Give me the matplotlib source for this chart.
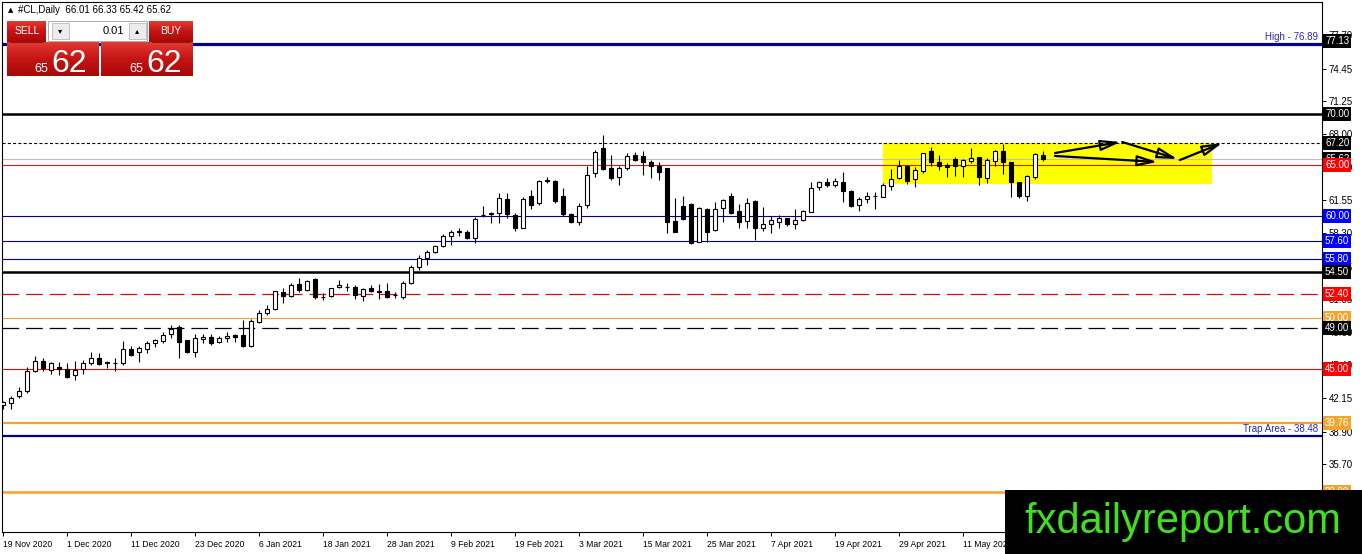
import matplotlib
matplotlib.use("Agg")
import matplotlib.pyplot as plt
import numpy as np
from matplotlib.patches import Rectangle
from matplotlib.colors import LinearSegmentedColormap
from matplotlib.transforms import blended_transform_factory

W, H = 1362, 554
plt.rcParams['font.family'] = ['Liberation Sans', 'DejaVu Sans']
plt.rcParams['lines.scale_dashes'] = False

# daily bars #CL, 19 Nov 2020 .. 25 May 2021
opens = [41.50, 41.66, 42.38, 42.87, 44.85, 45.84, 44.95, 45.25, 45.06, 44.40,
         45.00, 45.60, 46.10, 45.70, 45.60, 45.65, 46.95, 46.72, 46.95, 47.55,
         47.80, 48.42, 49.10, 47.86, 46.70, 48.00, 48.19, 47.70, 48.10, 48.35,
         48.35, 47.30, 49.66, 50.48, 50.87, 52.60, 52.17, 53.35, 52.76, 53.80,
         52.10, 52.17, 53.05, 53.09, 53.09, 52.17, 52.93, 52.70, 52.66, 52.30,
         52.04, 53.48, 55.05, 55.93, 56.45, 57.07, 58.08, 58.45, 58.47, 57.89,
         60.10, 60.25, 60.27, 61.65, 60.11, 58.87, 61.97, 61.25, 63.47, 63.47,
         61.97, 60.17, 59.45, 61.09, 64.19, 66.64, 64.74, 63.80, 64.68, 65.98,
         65.92, 65.27, 64.94, 64.68, 59.52, 60.99, 61.18, 57.50, 60.69, 58.61,
         60.82, 62.00, 60.50, 59.52, 61.48, 58.80, 59.26, 59.45, 59.78, 59.26,
         59.62, 60.43, 62.82, 63.37, 63.05, 63.37, 62.46, 61.09, 61.64, 61.97,
         61.90, 62.98, 63.70, 64.94, 63.60, 64.45, 66.38, 65.27, 65.00, 65.56,
         64.91, 65.43, 65.76, 63.76, 65.43, 66.38, 65.27, 63.31, 61.97, 63.86,
         66.01]
highs = [41.90, 42.38, 43.29, 45.19, 46.30, 46.07, 45.75, 45.75, 45.60, 45.85,
         45.90, 46.65, 46.55, 45.85, 46.10, 47.77, 47.30, 47.30, 47.77, 48.00,
         48.60, 49.33, 49.30, 47.90, 48.50, 48.45, 48.45, 48.25, 48.65, 48.45,
         49.80, 49.90, 50.80, 51.30, 52.70, 52.93, 53.40, 53.90, 53.75, 53.90,
         52.45, 53.00, 53.70, 53.40, 53.25, 52.93, 53.25, 53.35, 53.48, 52.60,
         53.67, 55.20, 56.19, 56.68, 57.17, 58.25, 58.64, 58.80, 58.64, 59.88,
         60.99, 60.43, 62.23, 62.23, 60.27, 61.84, 62.56, 63.54, 63.86, 63.54,
         62.72, 60.33, 61.25, 64.94, 66.47, 67.94, 65.98, 64.94, 66.15, 66.25,
         66.38, 65.49, 65.33, 64.74, 61.81, 61.97, 61.25, 60.92, 60.82, 61.35,
         61.67, 62.23, 61.15, 61.74, 61.58, 60.92, 60.04, 60.11, 59.85, 60.69,
         60.60, 63.37, 63.47, 63.76, 63.70, 64.29, 62.56, 61.90, 62.39, 62.39,
         63.21, 64.58, 65.49, 65.00, 64.78, 66.21, 66.80, 65.98, 65.23, 65.76,
         65.56, 66.64, 65.82, 65.66, 66.47, 67.06, 65.33, 63.37, 64.03, 66.15,
         66.33]
lows = [41.10, 41.10, 42.15, 42.70, 44.75, 44.80, 44.54, 44.45, 44.10, 43.90,
        44.50, 45.40, 45.40, 45.10, 44.85, 45.40, 46.30, 45.75, 46.55, 47.20,
        47.60, 48.05, 46.07, 46.55, 46.20, 47.60, 47.40, 47.60, 47.70, 47.70,
        47.15, 47.20, 49.50, 50.30, 50.80, 51.46, 52.10, 52.60, 52.70, 51.90,
        51.78, 52.04, 53.00, 52.66, 51.90, 51.72, 52.60, 51.90, 52.00, 52.00,
        51.90, 53.35, 54.72, 55.20, 56.35, 57.00, 57.17, 58.05, 57.76, 57.40,
        59.88, 59.29, 59.35, 59.78, 58.57, 58.80, 60.66, 61.09, 63.21, 61.32,
        60.01, 59.35, 59.13, 60.82, 63.80, 64.52, 63.54, 63.05, 64.52, 65.40,
        64.03, 63.76, 63.54, 58.31, 58.41, 59.62, 57.23, 57.43, 57.43, 58.54,
        59.39, 60.17, 58.87, 58.80, 57.66, 58.54, 58.31, 58.80, 59.06, 58.74,
        59.52, 60.43, 62.56, 62.82, 62.82, 61.41, 60.86, 60.53, 61.25, 60.66,
        61.84, 62.56, 63.60, 63.14, 62.88, 64.25, 64.91, 64.52, 63.86, 63.93,
        63.86, 65.17, 63.05, 63.27, 64.91, 64.12, 61.90, 61.74, 61.51, 63.60,
        65.42]
closes = [41.80, 42.15, 42.87, 44.80, 45.84, 45.09, 45.58, 45.00, 44.27, 44.95,
          45.60, 46.14, 45.55, 45.62, 45.66, 46.95, 46.40, 47.05, 47.55, 47.86,
          48.35, 48.94, 47.70, 46.70, 48.03, 48.19, 47.60, 48.03, 48.29, 48.12,
          47.28, 49.76, 50.48, 50.87, 52.66, 52.17, 53.25, 52.76, 53.67, 52.04,
          52.12, 52.93, 53.25, 53.05, 52.27, 52.85, 52.70, 52.60, 52.04, 52.28,
          53.48, 54.98, 55.93, 56.45, 57.07, 58.08, 58.41, 58.50, 57.89, 59.68,
          60.12, 60.30, 61.74, 60.20, 58.87, 61.65, 61.09, 63.44, 63.50, 61.51,
          60.17, 59.45, 61.02, 64.03, 66.31, 64.61, 63.76, 64.74, 65.88, 65.49,
          65.33, 64.91, 64.35, 59.45, 58.48, 59.68, 57.33, 60.82, 58.41, 60.69,
          61.54, 60.27, 59.39, 61.25, 58.80, 59.19, 59.58, 59.78, 59.19, 59.58,
          60.50, 62.72, 63.31, 63.05, 63.47, 62.49, 60.99, 61.67, 62.00, 62.00,
          63.05, 63.60, 64.91, 63.47, 64.52, 66.15, 65.27, 64.91, 64.84, 64.91,
          65.49, 65.66, 63.86, 65.49, 66.38, 65.27, 63.37, 62.00, 63.93, 66.08,
          65.62]

date_labels = ["19 Nov 2020", "1 Dec 2020", "11 Dec 2020", "23 Dec 2020",
               "6 Jan 2021", "18 Jan 2021", "28 Jan 2021", "9 Feb 2021",
               "19 Feb 2021", "3 Mar 2021", "15 Mar 2021", "25 Mar 2021",
               "7 Apr 2021", "19 Apr 2021", "29 Apr 2021", "11 May 2021",
               "21 May 2021"]
price_ticks = [32.45, 35.70, 38.90, 42.15, 45.40, 48.60, 51.85, 55.05,
               58.30, 61.55, 64.80, 68.00, 71.25, 74.45, 77.70]

# horizontal levels drawn on the chart
levels = [70.00, 67.20, 65.62, 65.00, 60.00, 57.60, 55.80, 54.50,
          52.40, 50.00, 49.00, 45.00, 39.76, 33.00]
high_level = 76.89
trap_level = 38.48
ask_label = 77.13

header = "#CL,Daily  66.01 66.33 65.42 65.62"
lot = "0.01"
price_small, price_big = "65", "62"

NAVY = "#00008c"
ORANGE = "#f2a52a"
RED = "#c81e1e"
LONG_DASH = (0, (12, 5))
SHORT_DASH = (0, (2.2, 1.6))
level_style = {
    70.00: ("black", 1.8, "-", "black"),
    67.20: ("black", 0.8, SHORT_DASH, "black"),
    65.62: ("#c0c0c0", 0.8, "-", "black"),
    65.00: (RED, 0.8, "-", "#ff0000"),
    60.00: (NAVY, 0.8, "-", "#0000ff"),
    57.60: (NAVY, 0.8, "-", "#0000ff"),
    55.80: (NAVY, 0.8, "-", "#0000ff"),
    54.50: ("black", 1.8, "-", "black"),
    52.40: ("#d01010", 0.9, LONG_DASH, "#ff0000"),
    50.00: (ORANGE, 0.8, "-", ORANGE),
    49.00: ("black", 0.9, LONG_DASH, "black"),
    45.00: ("#d01010", 0.8, "-", "#ff0000"),
    39.76: (ORANGE, 1.6, "-", ORANGE),
    33.00: (ORANGE, 1.8, "-", ORANGE),
}

fig = plt.figure(figsize=(W / 100, H / 100), dpi=100)
fig.patch.set_facecolor("white")

# main chart area: x 2..1322 px, y 2..532 px
ax = fig.add_axes([2 / W, 1 - 532 / H, 1320 / W, 530 / H])
ax.set_xlim(-0.125, 164.875)
ax.set_ylim(70 - 418 / 10.21, 70 + 112 / 10.21)

for p in levels:
    col, lw, ls, _ = level_style[p]
    ax.axhline(p, color=col, lw=lw, ls=ls, zorder=2)
ax.axhline(high_level, color=NAVY, lw=2.3, zorder=2)
ax.axhline(trap_level, color=NAVY, lw=1.6, zorder=2)

# yellow consolidation box and the projected arrows
ax.add_patch(Rectangle((110.0, 63.1), 41.1, 4.05, fc="#ffff00", ec="none", zorder=1))
arrow_legs = [((131.5, 66.18), (139.7, 67.26)),
              ((139.9, 67.26), (146.8, 65.59)),
              ((147.1, 65.49), (152.4, 67.16)),
              ((131.5, 65.89), (144.3, 65.30))]
for start, end in arrow_legs:
    ax.annotate("", xy=end, xytext=start,
                arrowprops=dict(arrowstyle="-|>,head_length=1.2,head_width=0.32",
                                ec="black", fc="none", lw=1.6,
                                shrinkA=0, shrinkB=0), zorder=6)

# candles
x = np.arange(len(opens))
o = np.array(opens)
c = np.array(closes)
up = c >= o
lo = np.minimum(o, c)
hgt = np.abs(c - o)
ax.vlines(x, lows, highs, color="black", lw=0.8, zorder=4)
ax.bar(x[up], hgt[up], bottom=lo[up], width=0.62, facecolor="white",
       edgecolor="black", lw=0.8, zorder=5)
ax.bar(x[~up], hgt[~up], bottom=lo[~up], width=0.62, facecolor="black",
       edgecolor="black", lw=0.8, zorder=5)

# axes styling like the terminal
for s in ax.spines.values():
    s.set_color("black")
    s.set_linewidth(0.8)
ax.yaxis.tick_right()
ax.set_yticks(price_ticks)
ax.set_yticklabels([f"{t:.2f}" for t in price_ticks])
ax.tick_params(axis="y", direction="out", length=3, width=0.7, pad=2,
               labelsize=7, colors="black")
ax.set_xticks(np.arange(0, len(date_labels) * 8, 8))
ax.set_xticklabels(date_labels, ha="left")
ax.tick_params(axis="x", direction="out", length=3, width=0.7, pad=2.5,
               labelsize=6.2)

# price labels on the right scale
tr = blended_transform_factory(ax.transAxes, ax.transData)
box_x = 1 + 3 / 1320


def price_box(val, col):
    ax.text(box_x, val, f"{val:.2f}", transform=tr, color="white", fontsize=7,
            va="center", ha="left", clip_on=False, zorder=8,
            bbox=dict(boxstyle="square,pad=0.2", fc=col, ec="none"))


price_box(ask_label, "black")
for p in levels:
    price_box(p, level_style[p][3])

ax.text(1 - 4 / 1320, high_level + 0.15, f"High - {high_level:.2f}", transform=tr,
        color="#2828c8", fontsize=7, ha="right", va="bottom", zorder=7)
ax.text(1 - 4 / 1320, trap_level + 0.15, f"Trap Area - {trap_level:.2f}", transform=tr,
        color="#2828c8", fontsize=7, ha="right", va="bottom", zorder=7)

# overlay in pixel coordinates: header, trade panel, watermark
ov = fig.add_axes([0, 0, 1, 1], zorder=10)
ov.set_axis_off()
ov.patch.set_alpha(0)

ov.text(8, 10, "\u25b2", fontsize=5, va="center", ha="left", family=["DejaVu Sans"])
ov.text(18, 10, header, fontsize=7, va="center", ha="left")

red_grad = LinearSegmentedColormap.from_list("rg", ["#e23a32", "#c41414", "#a80808"])
grad = np.linspace(0, 1, 64).reshape(-1, 1)


def red_panel(x0, y0, x1, y1):
    ov.imshow(grad, cmap=red_grad, extent=(x0, x1, y1, y0), aspect="auto",
              interpolation="bilinear", zorder=1)


red_panel(7, 21, 46, 42)
red_panel(149, 21, 193, 42)
red_panel(7, 42, 99, 76)
red_panel(101, 42, 193, 76)
ov.plot([10, 43], [41.5, 41.5], color="#801010", lw=0.6, zorder=2)
ov.plot([152, 190], [41.5, 41.5], color="#801010", lw=0.6, zorder=2)
ov.add_patch(Rectangle((48, 21), 99, 20, fc="white", ec="#a0a0a0", lw=0.6, zorder=2))
ov.add_patch(Rectangle((52, 23), 17, 16, fc="#ececec", ec="#b0b0b0", lw=0.5, zorder=3))
ov.add_patch(Rectangle((129, 23), 17, 16, fc="#ececec", ec="#b0b0b0", lw=0.5, zorder=3))
ov.text(60.5, 31, "\u25be", fontsize=6, ha="center", va="center", family=["DejaVu Sans"], zorder=4)
ov.text(137.5, 30.5, "\u25b4", fontsize=6, ha="center", va="center", family=["DejaVu Sans"], zorder=4)
ov.text(124, 30.5, lot, fontsize=8, ha="right", va="center", zorder=4)
ov.text(27, 30.5, "SELL", fontsize=7.5, color="white", ha="center", va="center", zorder=4)
ov.text(171, 30.5, "BUY", fontsize=7.5, color="white", ha="center", va="center", zorder=4)
for xs, xb in [(48, 51), (143, 146)]:
    ov.text(xs, 72, price_small, fontsize=9, color="white", ha="right", va="baseline", zorder=4)
    ov.text(xb, 72, price_big, fontsize=23, color="white", ha="left", va="baseline", zorder=4)

ov.add_patch(Rectangle((1005, 490), 357, 64, fc="black", ec="none", zorder=5))
ov.text(1183, 533, "fxdailyreport.com", fontsize=30, color="#3fe01e",
        ha="center", va="baseline", zorder=6)

ov.set_xlim(0, W)
ov.set_ylim(H, 0)

fig.savefig("out.png", dpi=100)
